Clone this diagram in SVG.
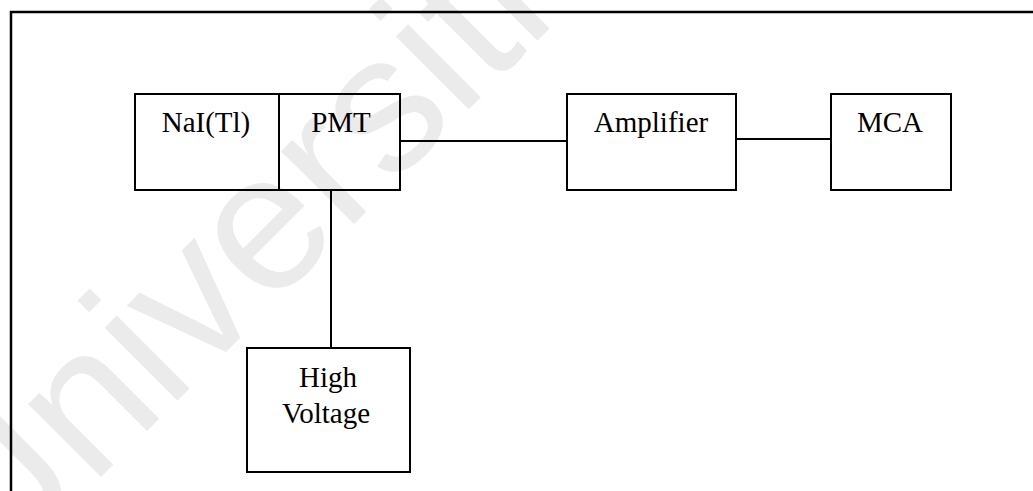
<svg xmlns="http://www.w3.org/2000/svg" width="1033" height="491" viewBox="0 0 1033 491">
<style>
.box{fill:none;stroke:#000;stroke-width:2}
.conn{fill:none;stroke:#000;stroke-width:2}
.lbl{font-family:"Liberation Serif","Times New Roman",serif;font-size:29px;fill:#000;text-anchor:middle}
.wm{font-family:"Liberation Sans",Arial,sans-serif;font-size:195px;fill:#ebebeb}
</style>
<rect width="1033" height="491" fill="#fff"/>
<text class="wm" x="-8" y="586" transform="rotate(-45 -8 586)">Universiti</text>
<path d="M11,500 V12 H1040" fill="none" stroke="#000" stroke-width="2.5"/>
<g id="connectors">
<line class="conn" x1="400" y1="141" x2="567" y2="141"/>
<line class="conn" x1="736" y1="139" x2="831" y2="139"/>
<line class="conn" x1="331" y1="190" x2="331" y2="348"/>
</g>
<g id="nai">
<rect class="box" x="135" y="94" width="144" height="96"/>
<text class="lbl" x="206" y="132">NaI(Tl)</text>
</g>
<g id="pmt">
<rect class="box" x="279" y="94" width="121" height="96"/>
<text class="lbl" x="341" y="132">PMT</text>
</g>
<g id="amplifier">
<rect class="box" x="567" y="94" width="169" height="96"/>
<text class="lbl" x="651" y="132">Amplifier</text>
</g>
<g id="mca">
<rect class="box" x="831" y="94" width="120" height="96"/>
<text class="lbl" x="890" y="132">MCA</text>
</g>
<g id="hv">
<rect class="box" x="247" y="348" width="163" height="124"/>
<text class="lbl" x="328" y="387">High</text>
<text class="lbl" x="326" y="423">Voltage</text>
</g>
</svg>
